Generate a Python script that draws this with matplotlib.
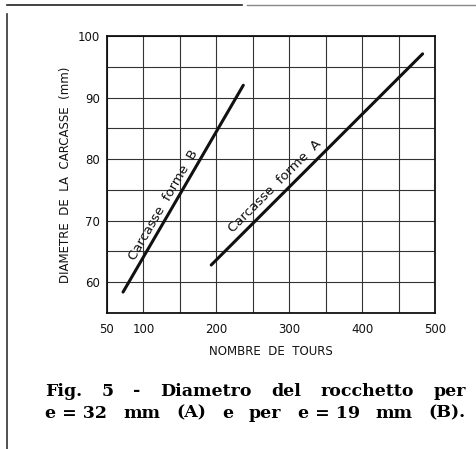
import matplotlib
matplotlib.use("Agg")
import matplotlib.pyplot as plt
from matplotlib.lines import Line2D
import numpy as np

# ---- data ----
line_b_x = [72, 237]
line_b_y = [58.4, 92.0]
line_a_x = [193, 483]
line_a_y = [62.8, 97.1]
label_b = "Carcasse  forme  B"
label_a = "Carcasse  forme  A"
x_ticks = [50, 100, 200, 300, 400, 500]
y_ticks = [60, 70, 80, 90, 100]
x_grid = list(range(50, 501, 50))
y_grid = list(range(55, 101, 5))
x_label = "NOMBRE  DE  TOURS"
y_label = "DIAMETRE  DE  LA  CARCASSE  (mm)"
caption_lines = [["Fig.", "5", "-", "Diametro", "del", "rocchetto", "per"],
                 ["e = 32", "mm", "(A)", "e", "per", "e = 19", "mm", "(B)."]]

W, H = 477, 449
fig = plt.figure(figsize=(W / 100, H / 100), dpi=100)
ax = fig.add_axes([107 / W, 1 - 313 / H, 328 / W, 277 / H])
ax.set_xlim(50, 500)
ax.set_ylim(55, 100)

ax.set_xticks(x_ticks)
ax.set_yticks(y_ticks)
ax.set_xticks(x_grid, minor=True)
ax.set_yticks(y_grid, minor=True)
ax.tick_params(which="both", length=0, labelcolor="#111111")
ax.tick_params(axis="x", pad=7, labelsize=8.5)
ax.tick_params(axis="y", pad=5, labelsize=8.5)
ax.grid(which="both", color="#333333", linewidth=0.8)
for s in ax.spines.values():
    s.set_linewidth(1.3)
    s.set_color("#111111")

ax.plot(line_b_x, line_b_y, color="#111111", linewidth=2.2, solid_capstyle="round")
ax.plot(line_a_x, line_a_y, color="#111111", linewidth=2.2, solid_capstyle="round")

fig.canvas.draw()

def screen_angle(xs, ys):
    p = ax.transData.transform(np.column_stack([xs, ys]))
    return np.degrees(np.arctan2(p[1, 1] - p[0, 1], p[1, 0] - p[0, 0]))

ax.text(127, 72.6, label_b, rotation=screen_angle(line_b_x, line_b_y),
        ha="center", va="center", fontsize=9.5, rotation_mode="anchor",
        color="#111111", fontweight="medium")
ax.text(280, 75.6, label_a, rotation=screen_angle(line_a_x, line_a_y),
        ha="center", va="center", fontsize=9.5, rotation_mode="anchor",
        color="#111111", fontweight="medium")

ax.set_xlabel(x_label, fontsize=8.5, labelpad=7, color="#111111")
ax.set_ylabel(y_label, fontsize=8.5, labelpad=4, color="#111111")

# frame lines of the scanned page
fig.add_artist(Line2D([7 / W, 242 / W], [1 - 5 / H, 1 - 5 / H], color="#222222", linewidth=1.2))
fig.add_artist(Line2D([247 / W, 1.0], [1 - 5 / H, 1 - 5 / H], color="#888888", linewidth=1.0))
fig.add_artist(Line2D([7 / W, 7 / W], [1 - 14 / H, 0.0], color="#333333", linewidth=1.2))

# justified caption
renderer = fig.canvas.get_renderer()
x0, x1 = 45, 466
for words, yc in zip(caption_lines, [391, 413]):
    texts = [fig.text(0, 1 - yc / H, w, fontsize=12.5, fontweight="bold",
                      family="DejaVu Serif", va="center", ha="left")
             for w in words]
    widths = [t.get_window_extent(renderer).width for t in texts]
    gap = ((x1 - x0) - sum(widths)) / (len(words) - 1)
    x = x0
    for t, w in zip(texts, widths):
        t.set_x(x / W)
        x += w + gap

fig.savefig("out.png", dpi=100)
